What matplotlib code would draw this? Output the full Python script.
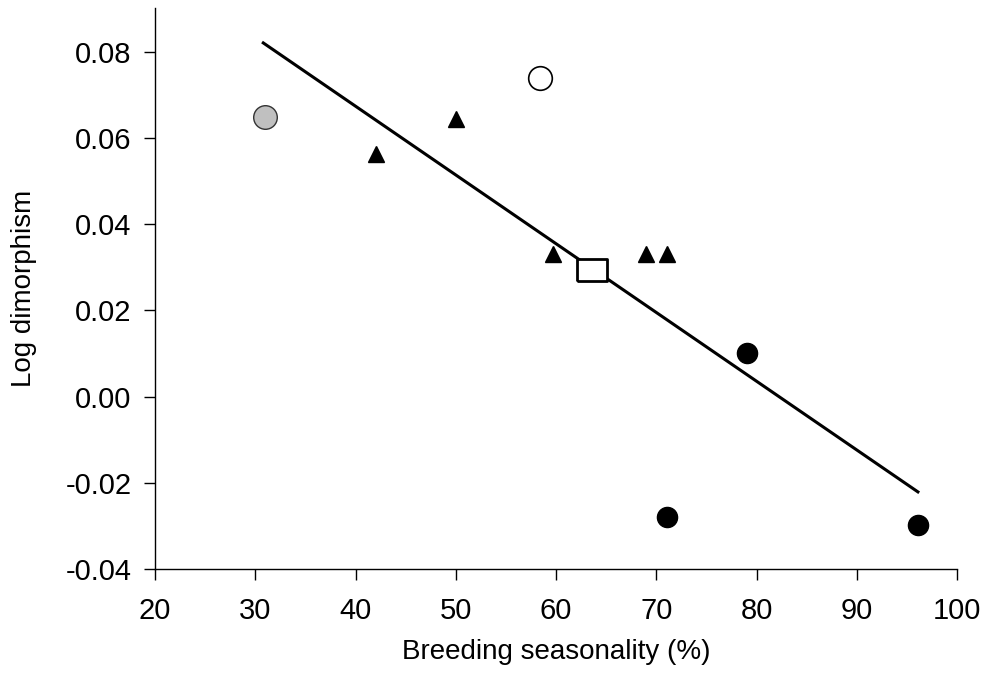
import matplotlib
matplotlib.use("Agg")
import matplotlib.pyplot as plt

plt.rcParams['font.family'] = ['Liberation Sans', 'DejaVu Sans']

# breeding seasonality (%) vs log dimorphism, grouped by symbol
grey_x = [31.0]
grey_y = [0.065]
open_x = [58.4]
open_y = [0.0739]
tri_x = [42.0, 50.0, 59.7, 69.0, 71.1]
tri_y = [0.0563, 0.0644, 0.0331, 0.0331, 0.0331]
dot_x = [79.1, 71.1, 96.1]
dot_y = [0.0101, -0.0280, -0.0298]
mean_x = [63.6]
mean_y = [0.0294]

# regression line endpoints
fit_x = [30.8, 96.1]
fit_y = [0.0821, -0.0221]

xticks = [20, 30, 40, 50, 60, 70, 80, 90, 100]
yticks = [-0.04, -0.02, 0.00, 0.02, 0.04, 0.06, 0.08]

fig = plt.figure(figsize=(9.86, 6.85), dpi=100)
ax = fig.add_axes([0.1572, 0.1693, 0.8134, 0.8190])

ax.plot(fit_x, fit_y, color='black', lw=2.2, zorder=2)

ax.plot(grey_x, grey_y, 'o', ms=17, mfc='#c0c0c0', mec='#333333', mew=1.0, zorder=3)
ax.plot(open_x, open_y, 'o', ms=17, mfc='white', mec='black', mew=1.2, zorder=3)
ax.plot(tri_x, tri_y, '^', ms=12, color='black', zorder=3)
ax.plot(dot_x, dot_y, 'o', ms=14.5, color='black', zorder=3)
rect = [(-1.3, -1), (1.3, -1), (1.3, 1), (-1.3, 1), (-1.3, -1)]
ax.plot(mean_x, mean_y, marker=rect, ms=21, mfc='white', mec='black', mew=2.0,
        ls='none', zorder=4)

ax.set_xlim(20, 100)
ax.set_ylim(-0.04, 0.0902)
ax.set_xticks(xticks)
ax.set_yticks(yticks)
ax.set_yticklabels(['%.2f' % v for v in yticks])

for s in ['top', 'right']:
    ax.spines[s].set_visible(False)
for s in ['left', 'bottom']:
    ax.spines[s].set_linewidth(1.0)
ax.tick_params(direction='out', length=8, width=1.0, labelsize=21)
ax.tick_params(axis='x', pad=12)
ax.tick_params(axis='y', pad=9)

ax.set_xlabel('Breeding seasonality (%)', fontsize=20, labelpad=10)
ax.set_ylabel('Log dimorphism', fontsize=20, labelpad=20)

fig.savefig('out.png', dpi=100)
